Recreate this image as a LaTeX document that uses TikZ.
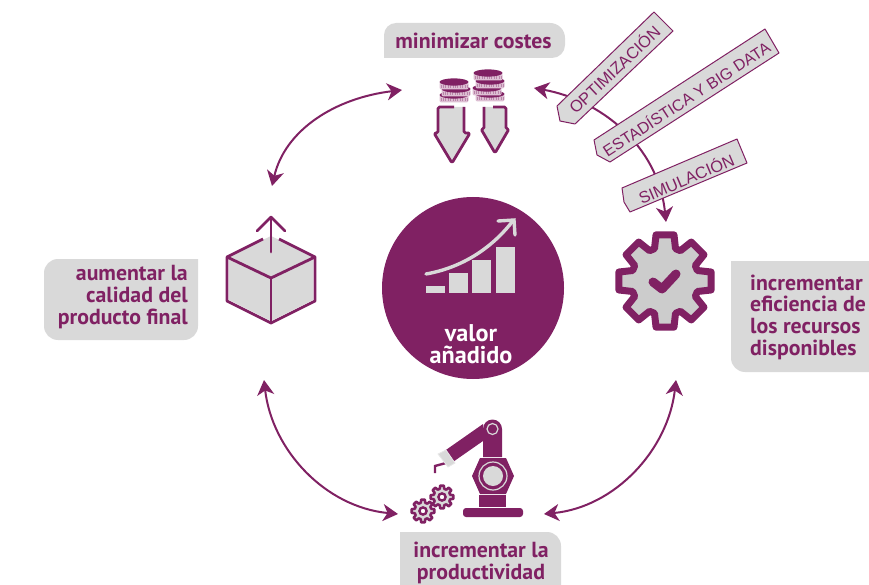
\documentclass[tikz,border=0pt]{standalone}
\usepackage{fontspec}
\setmainfont{PT Sans}
\newfontfamily\tagfont{Liberation Sans}
\usetikzlibrary{arrows.meta}
\definecolor{plum}{HTML}{802163}
\definecolor{pale}{HTML}{D9D9D9}
\definecolor{coinside}{HTML}{DDBFD3}
\tikzset{
  flow/.style={draw=plum,line width=2pt,{Stealth[length=15pt,width=17pt,inset=4.5pt]}-{Stealth[length=15pt,width=17pt,inset=4.5pt]}},
  label/.style={font=\bfseries\fontsize{21.8}{21.7}\selectfont,text=plum,inner sep=0pt},
  panel/.style={fill=pale,draw=none},
  tagshape/.style={fill=pale,draw=plum,line width=1pt,line join=round},
  tagtext/.style={font=\tagfont\fontsize{16.4}{18}\selectfont,text=plum,inner sep=0pt},
  icon/.style={draw=plum,line width=2.8pt,line join=round},
}
\newcommand{\coin}[2]{%
  \fill[coinside,rounded corners=2pt] (#1-14.5,#2) rectangle (#1+14.5,#2+7.5);
  \draw[plum!55,line width=3pt,dash pattern=on .8pt off 1.6pt] (#1-13.5,#2+5) -- (#1+13.5,#2+5);
  \fill[plum] (#1,#2) ellipse [x radius=14.5,y radius=3.6];
}
\newcommand{\cog}[6]{% x y outer root half-out half-root
  \begin{scope}[shift={(#1,#2)}]
  \path[fill=\cogfill,draw=plum,line width=\cogwidth,line join=round]
    (-#6:#4) \foreach \a in {0,45,...,315} {
      -- ({\a-#6}:#4) -- ({\a-#5}:#3) -- ({\a+#5}:#3) -- ({\a+#6}:#4)
    } -- cycle;
  \end{scope}}
\def\cogfill{pale}\def\cogwidth{2pt}
\begin{document}
\begin{tikzpicture}[x=1pt,y=-1pt]
\useasboundingbox (0,0) rectangle (869,585);

% flow end points
\coordinate (topL) at (402,90);
\coordinate (leftT) at (272,186);
\coordinate (leftB) at (264,380);
\coordinate (botL) at (398,514);
\coordinate (rightB) at (676,380);
\coordinate (botR) at (544,514);
\coordinate (topR) at (534,88);
\coordinate (rightT) at (666,222);

\draw[flow] (topL) .. controls (335,98) and (285,130) .. (leftT);
\draw[flow] (leftB) .. controls (272,450) and (325,507) .. (botL);
\draw[flow] (rightB) .. controls (668,450) and (615,507) .. (botR);
\draw[flow] (topR) .. controls (600,100) and (658,145) .. (rightT);

% panels
\path[panel] (384,58) -- (384,35) arc[start angle=180,end angle=270,radius=12] -- (550,23) arc[start angle=270,end angle=360,radius=15] -- (565,45) arc[start angle=0,end angle=90,radius=13] -- cycle;
\path[panel] (198,259) -- (58,259) arc[start angle=270,end angle=180,radius=14] -- (44,326) arc[start angle=180,end angle=90,radius=14] -- (184,340) arc[start angle=90,end angle=0,radius=14] -- cycle;
\path[panel] (869,261) -- (731,261) -- (731,358) arc[start angle=180,end angle=90,radius=14] -- (869,372) -- cycle;
\path[panel] (400,585) -- (400,532) -- (547,532) arc[start angle=270,end angle=360,radius=14] -- (561,585) -- cycle;

\node[label,anchor=center] (costes) at (473.5,41) {minimizar costes};
\node[label,anchor=east,align=right] (calidad) at (188,297) {aumentar la\\calidad del\\producto final};
\node[label,anchor=west,align=left] (eficiencia) at (750,317) {incrementar\\eficiencia de\\los recursos\\disponibles};
\node[label,anchor=center,align=center] (productividad) at (481,563) {incrementar la\\productividad};

% tags
\draw[tagshape] (654,12) -- (673,31) -- (575,124) -- (560,121) -- (557,106) -- cycle;
\node[tagtext,rotate=43.5] (opt) at (614,69) {OPTIMIZACIÓN};
\draw[tagshape] (765,29) -- (779,53) -- (610,162) -- (597,155) -- (594,140) -- cycle;
\node[tagtext,rotate=33,font=\tagfont\fontsize{16}{18}\selectfont] (est) at (686,98.5) {ESTADÍSTICA Y BIG DATA};
\draw[tagshape] (737,139) -- (747,163) -- (630,212) -- (624,202) -- (622,188) -- cycle;
\node[tagtext,rotate=23] (sim) at (686,178) {SIMULACIÓN};

% centre disc
\node[circle,fill=plum,minimum size=182pt,inner sep=0pt] (disc) at (473,288) {};
\fill[pale] (426,286) rectangle (445,293);
\fill[pale] (449,273) rectangle (468,293);
\fill[pale] (472,260) rectangle (491,293);
\fill[pale] (496,247) rectangle (515,293);
\draw[pale,line width=3.4pt,line cap=round] (426,274) .. controls (460,268) and (490,250) .. (512,222);
\draw[pale,line width=3.4pt,line cap=round,line join=miter] (498,221) -- (514,220) -- (515,235);
\node[label,text=white,align=center,font=\bfseries\fontsize{24.2}{22.5}\selectfont] (valor) at (471,344) {valor\\añadido};

% box icon
\fill[pale] (227,257) -- (271,236) -- (315,257) -- (271,278) -- cycle;
\draw[icon] (263,239) -- (227,257) -- (227,301) -- (271,323) -- (315,301) -- (315,257) -- (279,239);
\fill[pale] (229,258) -- (271,279) -- (271,321) -- (229,300) -- cycle;
\fill[pale] (313,258) -- (271,279) -- (271,321) -- (313,300) -- cycle;
\draw[icon] (227,257) -- (271,278) -- (315,257);
\draw[icon] (271,278) -- (271,323);
\draw[icon,line cap=round] (271,252) -- (271,217);
\draw[icon,line cap=round] (257,231) -- (271,217) -- (285,231);

% gear icon
\def\cogfill{black!20}\def\cogwidth{7pt}
\cog{665}{281}{47}{34}{11}{18}
\draw[plum,line width=9pt,line cap=round,line join=round] (653,282) -- (662,289) -- (676,274);

% coins
\coin{454}{95}\coin{456}{89}\coin{454}{82}
\coin{490}{94}\coin{487}{88}\coin{490}{81}\coin{488}{73}

% down arrows
\fill[pale] (438,107) -- (464,107) -- (464,132) -- (470,134) -- (452,162) -- (434,134) -- (438,132) -- cycle;
\draw[icon,rounded corners=1.5pt] (454,107) -- (438,107) -- (438,133) -- (434,133) -- (452,163) -- (470,133) -- (464,133) -- (464,107);
\fill[pale] (484,107) -- (506,107) -- (506,129) -- (509,130) -- (495,153) -- (481,130) -- (484,129) -- cycle;
\draw[icon,rounded corners=1.5pt] (493,107) -- (506,107) -- (506,129) -- (509,129) -- (495,153) -- (481,129) -- (484,129) -- (484,107);

% robot
\fill[plum,rounded corners=3pt] (463,517) -- (463,508) -- (523,508) -- (523,517) -- cycle;
\fill[plum] (479,495) rectangle (506,507);
\fill[plum] (483,429) arc[start angle=180,end angle=360,radius=9.5] -- (502,457) -- (483,457) -- cycle;
\fill[plum] (483,424) -- (483,441) -- (450,464) -- (443,452) -- cycle;
\draw[plum,line width=2.4pt] (446,463) -- (435,466) -- (435,473);
\draw[pale!60!white,line width=.8pt,fill=pale] (438,454) -- (446,450) -- (455,463) -- (448,467) -- cycle;
\draw[pale,line width=1.2pt,fill=plum] (492.5,429) circle[radius=5.5];
\fill[plum] (472,476) -- (480,458) -- (506,458) -- (514,476) -- (506,494) -- (480,494) -- cycle;
\draw[pale,line width=1.2pt] (493,476) circle[radius=14];
\fill[pale] (493,476) circle[radius=10];

% small gears
\def\cogfill{pale}\def\cogwidth{2.6pt}
\cog{442}{497}{11.5}{8.5}{9}{15}
\draw[plum,line width=2.4pt,fill=white] (442,497) circle[radius=3.6];
\cog{423}{511}{11.5}{8.5}{9}{15}
\draw[plum,line width=2.4pt,fill=white] (423,511) circle[radius=3.6];
\end{tikzpicture}
\end{document}
